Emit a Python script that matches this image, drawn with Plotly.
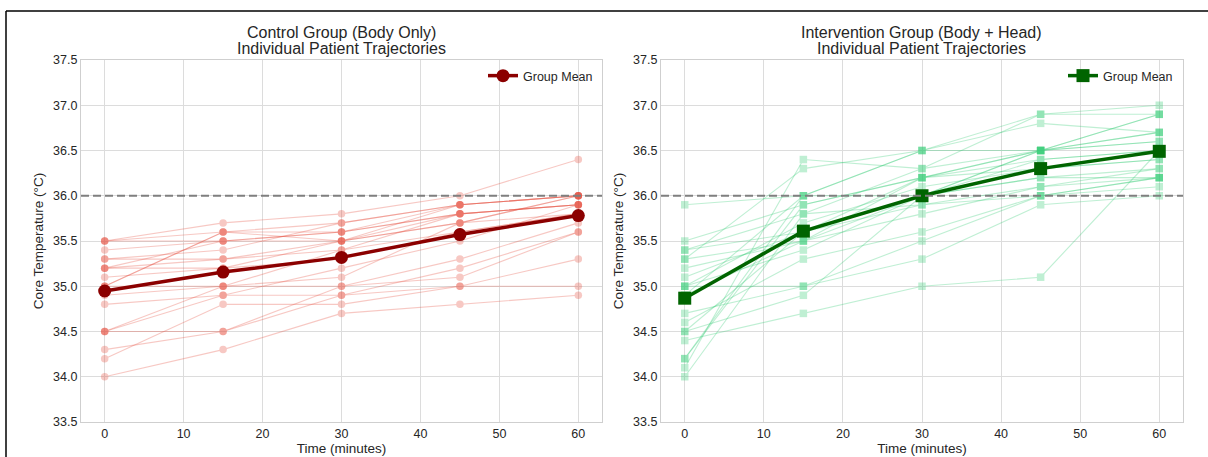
import plotly.graph_objects as go

# Measurement times (minutes)
times = [0, 15, 30, 45, 60]

# Core temperature per patient, one row per patient at the times above
control_temps = [
    [35.5, 35.7, 35.8, 36.0, 36.4],
    [35.5, 35.5, 35.5, 35.9, 36.0],
    [35.5, 35.6, 35.7, 35.9, 36.0],
    [35.4, 35.5, 35.6, 35.8, 35.9],
    [35.3, 35.4, 35.7, 35.9, 36.0],
    [35.3, 35.3, 35.5, 35.8, 35.9],
    [35.2, 35.5, 35.6, 35.9, 36.0],
    [35.2, 35.3, 35.4, 35.8, 35.9],
    [35.2, 35.2, 35.5, 35.7, 36.0],
    [35.1, 35.2, 35.3, 35.6, 35.8],
    [35.0, 35.6, 35.6, 35.8, 35.9],
    [35.0, 35.0, 35.1, 35.7, 35.8],
    [35.0, 35.6, 35.5, 35.7, 36.0],
    [34.9, 35.0, 35.4, 35.6, 35.8],
    [34.8, 34.9, 35.2, 35.5, 35.9],
    [34.5, 34.5, 35.0, 35.3, 35.7],
    [34.5, 34.9, 34.9, 35.2, 35.6],
    [34.5, 35.0, 35.0, 35.1, 35.6],
    [34.3, 34.5, 34.9, 35.0, 35.3],
    [34.2, 34.8, 34.8, 35.0, 35.0],
    [34.0, 34.3, 34.7, 34.8, 34.9],
]

intervention_temps = [
    [35.9, 36.0, 36.0, 36.2, 36.3],
    [35.5, 35.9, 36.2, 36.5, 36.9],
    [35.4, 35.6, 35.9, 36.0, 36.2],
    [35.4, 35.8, 36.3, 36.9, 36.9],
    [35.3, 35.5, 35.8, 36.1, 36.2],
    [35.3, 36.3, 36.5, 36.5, 36.7],
    [35.2, 35.5, 36.0, 36.5, 36.6],
    [35.1, 35.6, 36.2, 36.4, 36.5],
    [35.0, 35.7, 36.1, 36.3, 36.4],
    [35.0, 35.0, 35.5, 36.0, 36.1],
    [35.0, 35.4, 36.0, 36.2, 36.2],
    [34.9, 36.0, 36.5, 36.9, 37.0],
    [34.9, 35.5, 36.2, 36.5, 36.7],
    [34.7, 35.0, 35.3, 35.9, 36.0],
    [34.6, 35.3, 35.6, 36.0, 36.2],
    [34.5, 34.9, 36.0, 36.4, 36.5],
    [34.5, 35.6, 36.0, 36.5, 36.6],
    [34.4, 34.7, 35.0, 35.1, 36.5],
    [34.2, 35.9, 36.2, 36.3, 36.4],
    [34.2, 36.0, 36.5, 36.8, 36.7],
    [34.1, 36.4, 36.3, 36.5, 36.9],
    [34.0, 35.8, 35.9, 36.1, 36.3],
]

target_temp = 36.0
x_ticks = [0, 10, 20, 30, 40, 50, 60]
y_ticks = [33.5, 34.0, 34.5, 35.0, 35.5, 36.0, 36.5, 37.0, 37.5]

title_lines = [
    ("Control Group (Body Only)", "Individual Patient Trajectories"),
    ("Intervention Group (Body + Head)", "Individual Patient Trajectories"),
]


def column_means(rows):
    n = len(rows)
    return [sum(r[i] for r in rows) / n for i in range(len(rows[0]))]


FONT = "Liberation Sans, Arial, sans-serif"
TEXT = "#262626"

W, H = 1208, 457
ML, MR, MT, MB = 81, 25, 60, 35
PW = W - ML - MR
PH = H - MT - MB


def px_x(px):
    return (px - ML) / PW


def px_y(py):
    return (H - MB - py) / PH


fig = go.Figure()

panels = [
    dict(rows=control_temps, color="#e74c3c", mean_color="#8B0000",
         symbol="circle", xa="x", ya="y", legend="legend"),
    dict(rows=intervention_temps, color="#2ecc71", mean_color="#006400",
         symbol="square", xa="x2", ya="y2", legend="legend2"),
]

for p in panels:
    for row in p["rows"]:
        fig.add_trace(go.Scatter(
            x=times, y=row, mode="lines+markers",
            line=dict(color=p["color"], width=1.1),
            marker=dict(symbol=p["symbol"], size=7.5, color=p["color"]),
            opacity=0.3, showlegend=False, hoverinfo="skip",
            xaxis=p["xa"], yaxis=p["ya"],
        ))
    fig.add_trace(go.Scatter(
        x=times, y=column_means(p["rows"]), mode="lines+markers",
        name="Group Mean",
        line=dict(color=p["mean_color"], width=3.5),
        marker=dict(symbol=p["symbol"], size=13, color=p["mean_color"]),
        xaxis=p["xa"], yaxis=p["ya"], legend=p["legend"],
    ))

left_dom = [0, px_x(602)]
right_dom = [px_x(661), 1]

axis_common = dict(
    showgrid=True, gridcolor="#dcdcdc", gridwidth=1,
    showline=True, linecolor="#cfcfcf", linewidth=1.2, mirror=True,
    zeroline=False, ticks="", automargin=False,
    tickfont=dict(family=FONT, size=12.5, color=TEXT),
)

xtitle = dict(text="Time (minutes)", standoff=0,
              font=dict(family=FONT, size=13.5, color=TEXT))
ytitle = dict(text="Core Temperature (°C)", standoff=6,
              font=dict(family=FONT, size=13.5, color=TEXT))

fig.update_layout(
    width=W, height=H,
    margin=dict(l=ML, r=MR, t=MT, b=MB, autoexpand=False),
    paper_bgcolor="white", plot_bgcolor="white",
    font=dict(family=FONT, color=TEXT),
    xaxis=dict(domain=left_dom, range=[-3, 63], tickvals=x_ticks, anchor="y",
               title=xtitle, **axis_common),
    yaxis=dict(domain=[0, 1], range=[33.5, 37.5], tickvals=y_ticks,
               tickformat=".1f", anchor="x", title=ytitle, **axis_common),
    xaxis2=dict(domain=right_dom, range=[-3, 63], tickvals=x_ticks, anchor="y2",
                title=xtitle, **axis_common),
    yaxis2=dict(domain=[0, 1], range=[33.5, 37.5], tickvals=y_ticks,
                tickformat=".1f", anchor="x2", title=ytitle, **axis_common),
    legend=dict(x=px_x(598), xanchor="right", y=px_y(61), yanchor="top",
                bgcolor="rgba(0,0,0,0)", font=dict(family=FONT, size=12.5, color=TEXT)),
    legend2=dict(x=px_x(1178), xanchor="right", y=px_y(61), yanchor="top",
                 bgcolor="rgba(0,0,0,0)", font=dict(family=FONT, size=12.5, color=TEXT)),
)

# Target temperature reference line in each panel
for xa, ya in [("x", "y"), ("x2", "y2")]:
    fig.add_shape(type="line", xref=f"{xa} domain", yref=ya,
                  x0=0, x1=1, y0=target_temp, y1=target_temp,
                  line=dict(color="#7f7f7f", width=2, dash="8px,4px"))

# Two-line panel titles
for dom, (line1, line2) in zip([left_dom, right_dom], title_lines):
    cx = (dom[0] + dom[1]) / 2
    for text, cy in [(line1, 33), (line2, 48.5)]:
        fig.add_annotation(text=text, xref="paper", yref="paper",
                           x=cx, y=px_y(cy), xanchor="center", yanchor="middle",
                           showarrow=False,
                           font=dict(family=FONT, size=16, color=TEXT))

# Outer frame edges
fig.add_shape(type="line", xref="paper", yref="paper",
              x0=px_x(6), x1=px_x(W + 2), y0=px_y(11), y1=px_y(11),
              line=dict(color="black", width=1.5))
fig.add_shape(type="line", xref="paper", yref="paper",
              x0=px_x(6), x1=px_x(6), y0=px_y(11), y1=px_y(H + 2),
              line=dict(color="black", width=1.5))

fig.write_html("out.html")
